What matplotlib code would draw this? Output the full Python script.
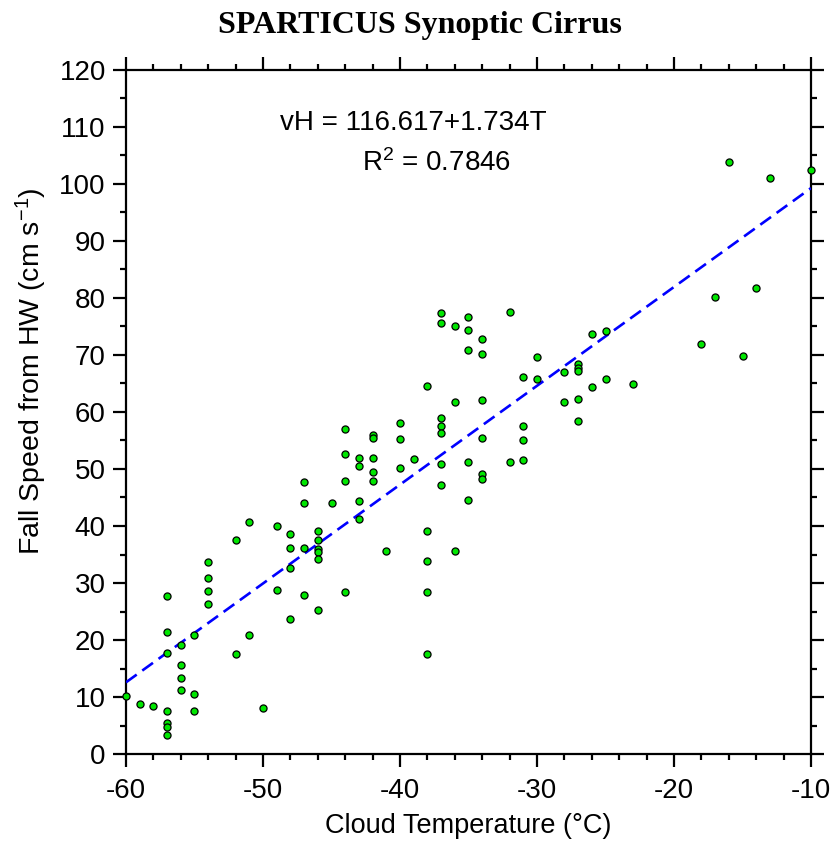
import numpy as np
import matplotlib
matplotlib.use('agg')
import matplotlib.pyplot as plt
from matplotlib.ticker import MultipleLocator

# cloud temperature (C) and fall speed from HW (cm/s)
temps = [-60, -59, -58,
         -57, -57, -57, -57, -57, -57, -57,
         -56, -56, -56, -56,
         -55, -55, -55,
         -54, -54, -54, -54,
         -52, -52, -51, -51, -50, -49, -49,
         -48, -48, -48, -48,
         -47, -47, -47, -47,
         -46, -46, -46, -46, -46, -46,
         -45,
         -44, -44, -44, -44,
         -43, -43, -43, -43,
         -42, -42, -42, -42, -42,
         -41, -40, -40, -40, -39,
         -38, -38, -38, -38, -38,
         -37, -37, -37, -37, -37, -37, -37,
         -36, -36, -36,
         -35, -35, -35, -35, -35,
         -34, -34, -34, -34, -34, -34,
         -32, -32,
         -31, -31, -31, -31,
         -30, -30, -28, -28,
         -27, -27, -27, -27, -27,
         -26, -26, -25, -25, -23,
         -18, -17, -16, -15, -14, -13, -10]
speeds = [10.2, 8.8, 8.5,
          27.7, 21.4, 17.7, 7.5, 5.5, 4.8, 3.4,
          19.1, 15.7, 13.3, 11.3,
          20.9, 10.6, 7.5,
          33.7, 30.8, 28.6, 26.3,
          37.5, 17.5, 40.7, 20.9, 8.1, 40.0, 28.8,
          38.6, 36.2, 32.6, 23.6,
          47.8, 44.0, 36.2, 27.9,
          39.1, 37.5, 35.9, 35.4, 34.2, 25.2,
          44.1,
          57.1, 52.6, 47.9, 28.5,
          51.9, 50.6, 44.3, 41.2,
          56.0, 55.5, 51.9, 49.4, 47.9,
          35.7, 58.0, 55.3, 50.1, 51.7,
          64.5, 39.1, 33.9, 28.5, 17.5,
          77.3, 75.7, 58.9, 57.5, 56.4, 50.8, 47.2,
          75.1, 61.8, 35.7,
          76.7, 74.4, 70.8, 51.2, 44.5,
          72.8, 70.2, 62.1, 55.5, 49.2, 48.3,
          77.5, 51.2,
          66.1, 57.5, 55.0, 51.5,
          69.6, 65.8, 67.0, 61.8,
          68.5, 67.7, 67.2, 62.3, 58.4,
          73.7, 64.3, 74.2, 65.8, 64.9,
          71.9, 80.2, 103.8, 69.9, 81.8, 101.1, 102.5]

# linear fit given on the plot
fit_a = 116.617
fit_b = 1.734
r2 = 0.7846

plt.rcParams['font.family'] = ['Liberation Sans', 'DejaVu Sans']
plt.rcParams['mathtext.default'] = 'regular'
plt.rcParams['axes.unicode_minus'] = False

fig = plt.figure(figsize=(8.32, 8.44), dpi=100)
ax = fig.add_axes([126/832, 1-754/844, 685/832, 684/844])

ax.scatter(temps, speeds, s=26, c='#00e600', edgecolors='black',
           linewidths=0.9, zorder=4, clip_on=False)

line_t = np.array([min(temps), max(temps)])
ax.plot(line_t, fit_a + fit_b*line_t, color='#0000ff', lw=1.9,
        dashes=(5, 2.6), zorder=3)

ax.set_xlim(-60, -10)
ax.set_ylim(0, 120)
ax.xaxis.set_major_locator(MultipleLocator(10))
ax.xaxis.set_minor_locator(MultipleLocator(2))
ax.yaxis.set_major_locator(MultipleLocator(10))
ax.yaxis.set_minor_locator(MultipleLocator(5))
ax.tick_params(which='both', direction='out', top=True, right=True,
               width=1.6, labelsize=20)
ax.tick_params(which='major', length=9.5)
ax.tick_params(which='minor', length=4.5)
ax.tick_params(axis='x', pad=8)
ax.tick_params(axis='y', pad=5)
for sp in ax.spines.values():
    sp.set_linewidth(1.6)

ax.set_xlabel('Cloud Temperature (°C)', fontsize=19.5, labelpad=6)
ax.set_ylabel('Fall Speed from HW (cm s$^{-1}$)', fontsize=20.5)
ax.yaxis.set_label_coords(-0.112, 0.56)

ax.text(0.42, 0.9225, 'vH = %.3f+%.3fT' % (fit_a, fit_b), transform=ax.transAxes,
        ha='center', va='center', fontsize=20)
ax.text(0.454, 0.864, 'R$^{2}$ = %.4f' % r2, transform=ax.transAxes,
        ha='center', va='center', fontsize=20)

fig.text(0.505, 0.97, 'SPARTICUS Synoptic Cirrus', ha='center', va='center',
         fontsize=23, fontweight='bold', family='Liberation Serif')

plt.savefig('out.png', dpi=100)
plt.close()
